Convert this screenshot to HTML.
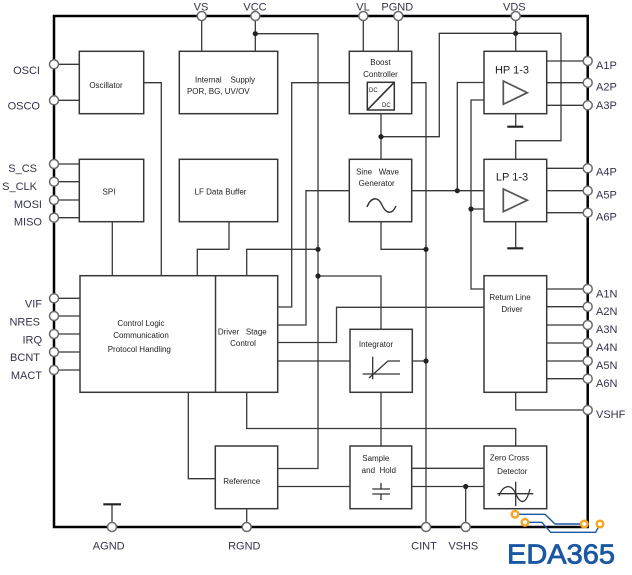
<!DOCTYPE html>
<html><head><meta charset="utf-8"><style>
html,body{margin:0;padding:0;background:#fff;}
svg{display:block;}
.w{fill:none;stroke:#383838;stroke-width:1.3;}
.b{fill:#fff;stroke:#383838;stroke-width:1.5;}
.p{fill:#fff;stroke:#6a6a6a;stroke-width:1.5;}
.j{fill:#222;}
.t{font-family:"Liberation Sans",sans-serif;font-size:8px;fill:#222;white-space:pre;}
.l{font-family:"Liberation Sans",sans-serif;font-size:11px;fill:#33334a;}
</style></head><body>
<svg width="632" height="575" viewBox="0 0 632 575" xmlns="http://www.w3.org/2000/svg">
<!-- wires -->
<g class="w">
<polyline points="201.7,16 201.7,51.3"/>
<polyline points="255.3,16 255.3,51.3"/>
<polyline points="255.3,33.7 318,33.7 318,468.5 277.7,468.5"/>
<polyline points="363.3,16 363.3,51.3"/>
<polyline points="398.3,16 398.3,51.3"/>
<polyline points="515.7,16 515.7,51.3"/>
<polyline points="381,136.7 439.3,136.7 439.3,33.3 561,33.3 561,140.7 515.7,140.7 515.7,159.3"/>
<polyline points="381,113.7 381,159.3"/>
<polyline points="349.3,82.7 291.7,82.7 291.7,307 277.7,307"/>
<polyline points="411.7,82.7 426,82.7 426,527"/>
<polyline points="349.3,190.7 306,190.7 306,325 277.7,325"/>
<polyline points="411.7,190.7 484,190.7"/>
<polyline points="457.3,190.7 457.3,82.5 484,82.5"/>
<polyline points="484,100 471,100 471,289 484,289"/>
<polyline points="471,209 484,209"/>
<polyline points="381,221.7 381,249.3 426,249.3"/>
<line x1="546.7" y1="61" x2="587.7" y2="61"/>
<line x1="546.7" y1="82.7" x2="587.7" y2="82.7"/>
<line x1="546.7" y1="105.3" x2="587.7" y2="105.3"/>
<line x1="546.7" y1="168.3" x2="587.7" y2="168.3"/>
<line x1="546.7" y1="190.7" x2="587.7" y2="190.7"/>
<line x1="546.7" y1="212.7" x2="587.7" y2="212.7"/>
<line x1="515.7" y1="113.7" x2="515.7" y2="126.7"/>
<line x1="515.7" y1="221.7" x2="515.7" y2="248.3"/>
<line x1="54" y1="64.3" x2="79.3" y2="64.3"/>
<line x1="54" y1="100.3" x2="79.3" y2="100.3"/>
<polyline points="143.7,82.7 161.3,82.7 161.3,275.7"/>
<line x1="54" y1="164" x2="79.3" y2="164"/>
<line x1="54" y1="181.7" x2="79.3" y2="181.7"/>
<line x1="54" y1="200" x2="79.3" y2="200"/>
<line x1="54" y1="217.7" x2="79.3" y2="217.7"/>
<line x1="112.3" y1="221.7" x2="112.3" y2="275.7"/>
<polyline points="229,221.7 229,249.3 197.3,249.3 197.3,275.7"/>
<polyline points="246.7,276 246.7,249.3 318,249.3"/>
<polyline points="318,276 381,276 381,329.3"/>
<line x1="54" y1="298.3" x2="80" y2="298.3"/>
<line x1="54" y1="316" x2="80" y2="316"/>
<line x1="54" y1="334" x2="80" y2="334"/>
<line x1="54" y1="352" x2="80" y2="352"/>
<line x1="54" y1="370" x2="80" y2="370"/>
<polyline points="277.7,342.5 336.5,342.5 336.5,307.3 484,307.3"/>
<line x1="277.7" y1="361" x2="350" y2="361"/>
<line x1="412.3" y1="361" x2="426" y2="361"/>
<line x1="381" y1="392.3" x2="381" y2="446"/>
<polyline points="246.7,392.3 246.7,428.5 515.7,428.5 515.7,446"/>
<polyline points="188.3,392.3 188.3,478.7 215.3,478.7"/>
<line x1="246.7" y1="508.7" x2="246.7" y2="527"/>
<line x1="277.7" y1="486.5" x2="350" y2="486.5"/>
<line x1="411.7" y1="486.5" x2="484" y2="486.5"/>
<line x1="465.7" y1="486.5" x2="465.7" y2="527"/>
<line x1="411.7" y1="468.3" x2="484" y2="468.3"/>
<line x1="112" y1="527" x2="112" y2="504.3"/>
<line x1="546.7" y1="289" x2="587.7" y2="289"/>
<line x1="546.7" y1="306.7" x2="587.7" y2="306.7"/>
<line x1="546.7" y1="325" x2="587.7" y2="325"/>
<line x1="546.7" y1="343" x2="587.7" y2="343"/>
<line x1="546.7" y1="361" x2="587.7" y2="361"/>
<line x1="546.7" y1="378.7" x2="587.7" y2="378.7"/>
<polyline points="515.7,392.3 515.7,410 587.7,410"/>
</g>
<g stroke="#222" stroke-width="2.2">
<line x1="507.3" y1="126.7" x2="523.3" y2="126.7"/>
<line x1="507.3" y1="248.3" x2="523.3" y2="248.3"/>
<line x1="103.3" y1="504.3" x2="121" y2="504.3"/>
</g>
<!-- frame -->
<rect x="54" y="16" width="533.7" height="511" fill="none" stroke="#000" stroke-width="2.5"/>
<!-- boxes -->
<g class="b">
<rect x="79.3" y="51.3" width="64.4" height="62.4"/>
<rect x="179.3" y="51.3" width="98.4" height="62.4"/>
<rect x="349.3" y="51.3" width="62.4" height="62.4"/>
<rect x="484" y="51.3" width="62.7" height="62.4"/>
<rect x="79.3" y="159.3" width="64.4" height="62.4"/>
<rect x="179.3" y="159.3" width="98.4" height="62.4"/>
<rect x="349.3" y="159.3" width="62.4" height="62.4"/>
<rect x="484" y="159.3" width="62.7" height="62.4"/>
<rect x="80" y="275.7" width="197.7" height="116.6"/>
<rect x="484" y="275.7" width="62.7" height="116.6"/>
<rect x="350" y="329.3" width="62.3" height="63"/>
<rect x="215.3" y="446" width="62.4" height="62.7"/>
<rect x="350" y="446" width="61.7" height="62.7"/>
<rect x="484" y="446" width="62.7" height="62.7"/>
</g>
<line x1="215.5" y1="275.7" x2="215.5" y2="392.3" stroke="#383838" stroke-width="1.5"/>
<!-- symbols -->
<rect x="367.3" y="82.3" width="27" height="27.7" fill="none" stroke="#333" stroke-width="1.5"/>
<line x1="367.3" y1="110" x2="394.3" y2="82.3" stroke="#333" stroke-width="1.6"/>
<text x="369" y="92" style="font-family:'Liberation Sans',sans-serif;font-size:6px;fill:#222">DC</text>
<text x="382" y="107" style="font-family:'Liberation Sans',sans-serif;font-size:6px;fill:#222">DC</text>
<polygon points="503.3,81 527.3,92.7 503.3,104.3" fill="none" stroke="#555" stroke-width="1.7"/>
<polygon points="503.3,189 527.3,200.3 503.3,211.7" fill="none" stroke="#555" stroke-width="1.7"/>
<path d="M367,207 C371,197 378,196 382,205 S392,215 396,206" fill="none" stroke="#333" stroke-width="1.4"/>
<g stroke="#333" stroke-width="1.3" fill="none">
<line x1="372.7" y1="356.7" x2="372.7" y2="379.3"/>
<line x1="362.7" y1="374" x2="400" y2="374"/>
<polyline points="369,378 388,361 400,361"/>
<line x1="372.3" y1="489" x2="390" y2="489"/>
<line x1="372.3" y1="494" x2="390" y2="494"/>
<line x1="381" y1="483" x2="381" y2="489"/>
<line x1="381" y1="494" x2="381" y2="500"/>
<line x1="497.3" y1="493.7" x2="533.3" y2="493.7"/>
<line x1="515.7" y1="481.7" x2="515.7" y2="506"/>
<path d="M499,496 C503,485 511,483 515.7,493.7 S526,505 530,489"/>
</g>
<!-- junctions -->
<g class="j">
<circle cx="255.3" cy="33.7" r="2.6"/>
<circle cx="515.7" cy="33.3" r="2.6"/>
<circle cx="381" cy="136.7" r="2.6"/>
<circle cx="457.3" cy="190.7" r="2.6"/>
<circle cx="471" cy="209" r="2.6"/>
<circle cx="318" cy="249.3" r="2.6"/>
<circle cx="318" cy="276" r="2.6"/>
<circle cx="426" cy="249.3" r="2.6"/>
<circle cx="426" cy="361" r="2.6"/>
<circle cx="465.7" cy="486.5" r="2.6"/>
</g>
<!-- pins -->
<g class="p">
<circle cx="201.7" cy="16" r="4.5"/><circle cx="255.3" cy="16" r="4.5"/><circle cx="363.3" cy="16" r="4.5"/><circle cx="398.3" cy="16" r="4.5"/><circle cx="515.7" cy="16" r="4.5"/>
<circle cx="54" cy="64.3" r="4.5"/><circle cx="54" cy="100.3" r="4.5"/><circle cx="54" cy="164" r="4.5"/><circle cx="54" cy="181.7" r="4.5"/><circle cx="54" cy="200" r="4.5"/><circle cx="54" cy="217.7" r="4.5"/>
<circle cx="54" cy="298.3" r="4.5"/><circle cx="54" cy="316" r="4.5"/><circle cx="54" cy="334" r="4.5"/><circle cx="54" cy="352" r="4.5"/><circle cx="54" cy="370" r="4.5"/>
<circle cx="587.7" cy="61" r="4.5"/><circle cx="587.7" cy="82.7" r="4.5"/><circle cx="587.7" cy="105.3" r="4.5"/><circle cx="587.7" cy="168.3" r="4.5"/><circle cx="587.7" cy="190.7" r="4.5"/><circle cx="587.7" cy="212.7" r="4.5"/>
<circle cx="587.7" cy="289" r="4.5"/><circle cx="587.7" cy="306.7" r="4.5"/><circle cx="587.7" cy="325" r="4.5"/><circle cx="587.7" cy="343" r="4.5"/><circle cx="587.7" cy="361" r="4.5"/><circle cx="587.7" cy="378.7" r="4.5"/><circle cx="587.7" cy="410" r="4.5"/>
<circle cx="112" cy="527" r="4.5"/><circle cx="246.7" cy="527" r="4.5"/><circle cx="426" cy="527" r="4.5"/><circle cx="465.7" cy="527" r="4.5"/>
</g>
<!-- box text -->
<g class="t" text-anchor="middle">
<text x="106" y="88">Oscillator</text>
<text x="225" y="82.5">Internal&#160;&#160;&#160; Supply</text>
<text x="218.3" y="94">POR, BG, UV/OV</text>
<text x="380.5" y="65">Boost</text>
<text x="380.5" y="77">Controller</text>
<text x="109" y="194.5">SPI</text>
<text x="220.5" y="194.5">LF Data Buffer</text>
<text x="377.5" y="174.5">Sine&#160;&#160; Wave</text>
<text x="376.7" y="186">Generator</text>
<text x="141" y="326">Control Logic</text>
<text x="141" y="338">Communication</text>
<text x="139.3" y="352">Protocol Handling</text>
<text x="242.3" y="334.5">Driver&#160;&#160; Stage</text>
<text x="243" y="346">Control</text>
<text x="510" y="300">Return Line</text>
<text x="512" y="312">Driver</text>
<text x="376" y="347">Integrator</text>
<text x="241.7" y="484">Reference</text>
<text x="375.8" y="461">Sample</text>
<text x="378.8" y="473">and&#160; Hold</text>
<text x="509.5" y="460.5">Zero Cross</text>
<text x="512.3" y="474">Detector</text>
</g>
<g style="font-family:'Liberation Sans',sans-serif;font-size:11px;fill:#222" text-anchor="middle">
<text x="512" y="73.5">HP 1-3</text>
<text x="512" y="180.5">LP 1-3</text>
</g>
<!-- pin labels -->
<g class="l" text-anchor="end">
<text x="40" y="74">OSCI</text>
<text x="40" y="109.3">OSCO</text>
<text x="37" y="172">S_CS</text>
<text x="37" y="190">S_CLK</text>
<text x="42" y="208">MOSI</text>
<text x="42" y="225.7">MISO</text>
<text x="42" y="307.3">VIF</text>
<text x="40" y="325.3">NRES</text>
<text x="42" y="343.3">IRQ</text>
<text x="40" y="361">BCNT</text>
<text x="42" y="379">MACT</text>
</g>
<g class="l">
<text x="596" y="69">A1P</text>
<text x="596" y="90.7">A2P</text>
<text x="596" y="109">A3P</text>
<text x="596" y="175.7">A4P</text>
<text x="596" y="198.3">A5P</text>
<text x="596" y="220.7">A6P</text>
<text x="596" y="297.3">A1N</text>
<text x="596" y="315">A2N</text>
<text x="596" y="333">A3N</text>
<text x="596" y="351">A4N</text>
<text x="596" y="369">A5N</text>
<text x="596" y="387">A6N</text>
<text x="596" y="418">VSHF</text>
</g>
<g class="l" text-anchor="middle">
<text x="201" y="10.5">VS</text>
<text x="255" y="10.5">VCC</text>
<text x="363" y="10.5">VL</text>
<text x="397.3" y="10.5">PGND</text>
<text x="514.3" y="10.5">VDS</text>
<text x="108.7" y="549.5">AGND</text>
<text x="244.3" y="549.5">RGND</text>
<text x="424" y="549.5">CINT</text>
<text x="463.3" y="549.5">VSHS</text>
</g>
<!-- logo -->
<g fill="none" stroke="#1b57a3" stroke-width="1.4">
<polyline points="515,514.3 545,514.3 555,524 584,524"/>
<polyline points="525,522.3 541.7,522.3 550.7,532.3 595.7,532.3 600,524"/>
</g>
<g fill="#fff" stroke="#f5a623" stroke-width="2.5">
<circle cx="515" cy="514.3" r="3.3"/>
<circle cx="525" cy="522.3" r="3.3"/>
<circle cx="584.3" cy="524" r="3.3"/>
<circle cx="600" cy="524" r="3.3"/>
</g>
<text x="507" y="563.5" textLength="108" lengthAdjust="spacingAndGlyphs" style="font-family:'Liberation Sans',sans-serif;font-size:28px;fill:#1b57a3;stroke:#1b57a3;stroke-width:0.8">EDA365</text>
</svg>
</body></html>
